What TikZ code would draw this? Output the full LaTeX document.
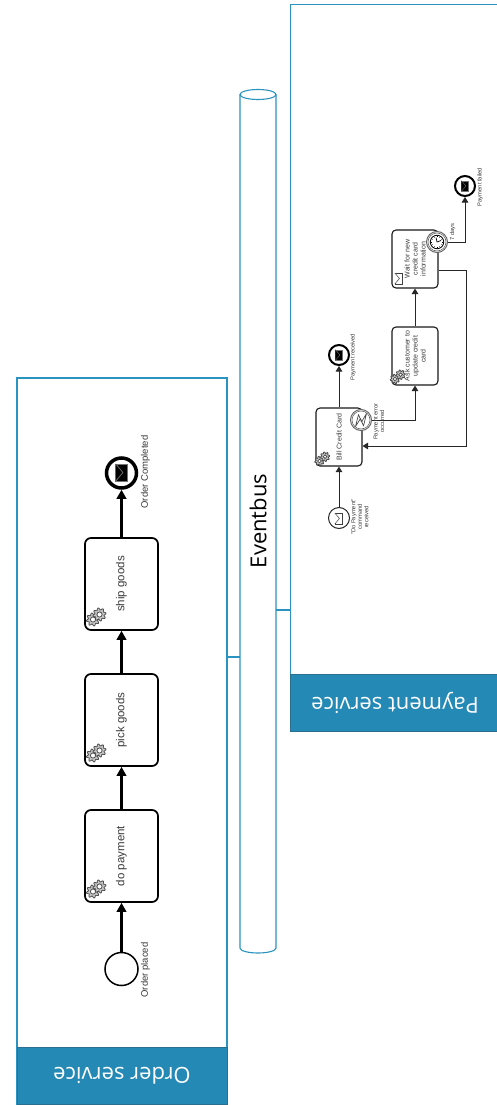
\documentclass[tikz,border=0pt]{standalone}
\usepackage{fontspec}
\setmainfont{Liberation Sans}
\newfontfamily\headfont{Open Sans}
\usetikzlibrary{arrows.meta,calc}
\definecolor{poolblue}{HTML}{2B93BF}
\definecolor{headblue}{HTML}{2589B5}
\definecolor{headedge}{HTML}{2A6F8F}
\definecolor{inkgray}{HTML}{3A3A3A}
\tikzset{
  x=1pt,y=1pt,
  pool/.style={draw=poolblue,line width=1.1pt,fill=white,rectangle,inner sep=0pt},
  header/.style={draw=headedge,line width=1pt,fill=headblue,rectangle,text=white,inner sep=0pt,font=\headfont\fontsize{22}{24}\selectfont,rotate=180},
  bustext/.style={rectangle,inner sep=0pt,rotate=90,text=black,font=\headfont\fontsize{22}{24}\selectfont},
  link/.style={draw=poolblue,line width=1.1pt},
  bigtask/.style={draw=black,line width=1.7pt,rectangle,rounded corners=6pt,fill=white,rotate=90,align=center,inner sep=0pt,text=inkgray,minimum width=92,minimum height=73,font=\fontsize{11.5}{13}\selectfont},
  smalltask/.style={draw=black!90,line width=1.1pt,rectangle,rounded corners=4pt,fill=white,rotate=90,align=center,inner sep=0pt,text=inkgray,minimum width=58,minimum height=46,font=\fontsize{7}{8}\selectfont},
  evt/.style={circle,draw=black,fill=white,inner sep=0pt},
  lab/.style={rotate=90,align=center,inner sep=0pt,text=inkgray},
  biglab/.style={lab,font=\fontsize{9.5}{11}\selectfont},
  smalllab/.style={lab,font=\fontsize{5.8}{6.5}\selectfont},
  flow/.style={draw=black,line width=2.2pt,-{Triangle[length=9pt,width=9.5pt]}},
  smallflow/.style={draw=black!85,line width=1pt,-{Triangle[length=5.5pt,width=6.5pt]}},
  gear/.pic={
    \draw[draw=black!70,fill=black!22,line width=.8pt,smooth cycle] plot[samples=48,domain=0:352.5] (\x:{5.6+1.1*sin(8*\x)});
    \draw[draw=black!70,fill=white,line width=.8pt] (0,0) circle (2.6);
  },
  gears/.pic={
    \pic[scale=#1] at (-3,-2.5) {gear};
    \pic[scale=#1] at (3.5*#1,2.5*#1) {gear};
  },
  envelope/.pic={
    \draw[pic actions] (-4,-6) rectangle (4,6);
    \draw[pic actions] (-4,6) -- (1,0) -- (-4,-6);
  }
}
\begin{document}
\begin{tikzpicture}
\useasboundingbox (0,0) rectangle (497,-1105);
\fill[white] (0,0) rectangle (497,-1105);
% pools
\node[pool,minimum width=210,minimum height=726] (orderpool) at (122,-741) {};
\node[pool,minimum width=210,minimum height=727,anchor=north west] (paypool) at (290,-4) {};
\node[header,minimum width=210,minimum height=57] (orderhead) at (122,-1075.5) {Order service};
\node[header,minimum width=210,minimum height=57,anchor=center] (payhead) at (395,-702.5) {Payment service};
% eventbus
\fill[white] (240,-94.5) -- (240,-948) arc[start angle=180,end angle=360,x radius=18,y radius=5] -- (276,-94.5) -- cycle;
\draw[poolblue,line width=1.1pt] (240,-94.5) -- (240,-948) arc[start angle=180,end angle=360,x radius=18,y radius=5] -- (276,-94.5);
\draw[poolblue,line width=1.1pt] (258,-94.5) ellipse[x radius=18,y radius=5];
\node[bustext,minimum width=864,minimum height=36] (bus) at (258,-521) {Eventbus};
\coordinate (linkA) at (0,-657);
\coordinate (linkB) at (0,-610);
\path[link] (orderpool.east |- linkA) -- (bus.north |- linkA);
\path[link] (bus.south |- linkB) -- (paypool.west |- linkB);
% order process
\node[evt,line width=1.5pt,minimum size=33] (ostart) at (121.5,-969) {};
\node[bigtask] (t1) at (121.5,-856) {do payment};
\node[bigtask] (t2) at (121.5,-720) {pick goods};
\node[bigtask] (t3) at (121.5,-584) {ship goods};
\node[evt,line width=3.5pt,minimum size=30] (oend) at (121.5,-473) {};
\path[flow] (ostart.north) -- (t1.west);
\path[flow] (t1.east) -- (t2.west);
\path[flow] (t2.east) -- (t3.west);
\path[flow] (t3.east) -- (oend.south);
\pic at (96,-889) {gears=1};
\pic at (96,-753) {gears=1};
\pic at (96,-617) {gears=1};
\pic[draw=black!55,fill=black,line width=.7pt,scale=1.42] at (121.5,-472.5) {envelope};
\node[biglab] (olabs) at (145.5,-970) {Order placed};
\node[biglab] (olabe) at (145.5,-472) {Order Completed};
% payment process
\node[evt,draw=black!85,line width=1pt,minimum size=21] (pstart) at (339,-518) {};
\node[smalltask] (bill) at (339,-437) {Bill Credit Card};
\node[smalltask] (ask) at (415,-356) {Ask customer to\\update credit\\card};
\node[smalltask] (wait) at (415,-259) {Wait for new\\credit card\\information};
\node[evt,line width=2pt,minimum size=20] (pend) at (339,-355) {};
\node[evt,line width=2pt,minimum size=20] (fend) at (465,-186) {};
\node[evt,draw=black!60,line width=1pt,minimum size=21] (err) at (361,-420) {};
\node[evt,draw=black!60,line width=1pt,minimum size=21] (tim) at (437,-242) {};
\coordinate (waitout) at (438.5,-270);
\coordinate (billin) at (362.5,-446);
\coordinate (backup) at (466,-270);
\path[smallflow] (pstart.north) -- (bill.west);
\path[smallflow] (bill.east) -- (pend.south);
\path[smallflow] (ask.east) -- (wait.west);
\path[smallflow] (err.east) -| (ask.west);
\path[smallflow] (tim.east) -| (fend.south);
\path[smallflow] (waitout) -- (backup) |- (billin);
% inner rings and icons
\node[evt,draw=black!60,line width=.6pt,minimum size=18] (erri) at (361,-420) {};
\node[evt,draw=black!60,line width=.6pt,minimum size=18] (timi) at (437,-242) {};
\node[evt,draw=black,line width=.8pt,minimum size=13.5] (clock) at (437,-242) {};
\pic[draw=black!75,fill=white,line width=.5pt,scale=.9] at (338.5,-518.5) {envelope};
\pic[draw=black!55,fill=black,line width=.4pt,scale=.88] at (339,-355) {envelope};
\pic[draw=black!55,fill=black,line width=.4pt,scale=.88] at (465,-186) {envelope};
\pic[draw=black!75,fill=white,line width=.5pt,scale=.92] at (398.5,-278.5) {envelope};
\pic at (322.5,-458.5) {gears=.72};
\pic at (398,-376.5) {gears=.72};
\draw[black!70,line width=.7pt,fill=white,line join=round] (355.5,-426.5) -- (358.5,-414.5) -- (361.5,-422) -- (366.5,-413.5) -- (363.5,-426) -- (360.5,-418.5) -- cycle;
\draw[black,line width=.7pt] (clock.center) -- ++(4,1.5) (clock.center) -- ++(-1,4.5);
\foreach \a in {0,30,...,330}{\draw[black,line width=.3pt] (437,-242) ++(\a:4.8) -- ++(\a:1.5);}
% labels
\node[smalllab] (l1) at (360,-517) {"Do Payment"\\command\\received};
\node[smalllab] (l2) at (353,-357) {Payment received};
\node[smalllab] (l3) at (379,-421.5) {Payment error\\occurred};
\node[smalllab] (l4) at (452.5,-232) {7 days};
\node[smalllab] (l5) at (480,-187) {Payment failed};
\end{tikzpicture}
\end{document}
